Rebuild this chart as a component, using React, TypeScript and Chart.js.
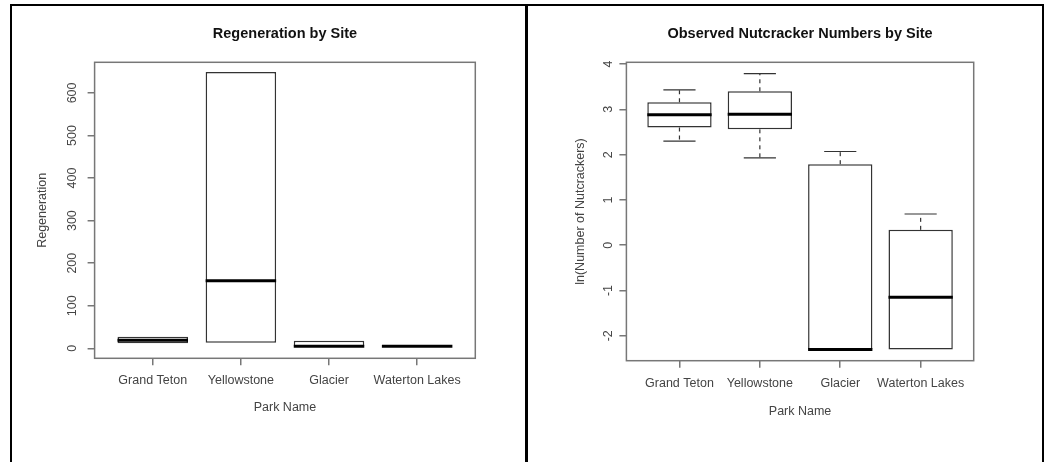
import React, { useEffect, useRef } from 'react';
import { Chart, registerables } from 'chart.js';

Chart.register(...registerables);

// ---------- data ----------
const parks = ['Grand Teton', 'Yellowstone', 'Glacier', 'Waterton Lakes'];
const parkPositions = [1, 2, 3, 4];

// Regeneration by Site (box plot statistics)
const regenLow = [12, 13, 4, 5];
const regenQ1 = [12, 13, 4, 5];
const regenMedian = [19, 159, 5, 5];
const regenQ3 = [27, 649, 18, 5];
const regenHigh = [27, 649, 18, 5];
const regenTicks = [0, 100, 200, 300, 400, 500, 600];

// Observed Nutcracker Numbers by Site, ln scale
const nutLow = [2.3, 1.93, -2.3, -2.3];
const nutQ1 = [2.6, 2.56, -2.3, -2.3];
const nutMedian = [2.88, 2.89, -2.3, -1.15];
const nutQ3 = [3.16, 3.4, 1.79, 0.34];
const nutHigh = [3.43, 3.79, 2.07, 0.69];
const nutTicks = [-2, -1, 0, 1, 2, 3, 4];

const FONT = "'Liberation Sans', Arial, Helvetica, sans-serif";

type Stats = { low: number[]; q1: number[]; median: number[]; q3: number[]; high: number[] };

function makeBoxPlugin(stats: Stats) {
  return {
    id: 'boxExtras',
    afterDatasetsDraw(chart: any) {
      const { ctx } = chart;
      const y = chart.scales.y;
      const meta = chart.getDatasetMeta(0);
      meta.data.forEach((bar: any, i: number) => {
        const x = bar.x;
        const half = bar.width / 2;
        const pq1 = y.getPixelForValue(stats.q1[i]);
        const pq3 = y.getPixelForValue(stats.q3[i]);
        const plo = y.getPixelForValue(stats.low[i]);
        const phi = y.getPixelForValue(stats.high[i]);
        const pm = y.getPixelForValue(stats.median[i]);
        ctx.save();
        ctx.strokeStyle = '#333';
        ctx.lineWidth = 1.2;
        ctx.lineCap = 'butt';
        if (stats.high[i] > stats.q3[i]) {
          ctx.setLineDash([4, 4]);
          ctx.beginPath();
          ctx.moveTo(x, pq3);
          ctx.lineTo(x, phi);
          ctx.stroke();
          ctx.setLineDash([]);
          ctx.beginPath();
          ctx.moveTo(x - half / 2, phi);
          ctx.lineTo(x + half / 2, phi);
          ctx.stroke();
        }
        if (stats.low[i] < stats.q1[i]) {
          ctx.setLineDash([4, 4]);
          ctx.beginPath();
          ctx.moveTo(x, pq1);
          ctx.lineTo(x, plo);
          ctx.stroke();
          ctx.setLineDash([]);
          ctx.beginPath();
          ctx.moveTo(x - half / 2, plo);
          ctx.lineTo(x + half / 2, plo);
          ctx.stroke();
        }
        ctx.strokeStyle = '#000';
        ctx.lineWidth = 3;
        ctx.beginPath();
        ctx.moveTo(x - half, pm);
        ctx.lineTo(x + half, pm);
        ctx.stroke();
        ctx.restore();
      });
    },
    afterDraw(chart: any) {
      const { ctx, chartArea: a } = chart;
      ctx.save();
      ctx.strokeStyle = '#777';
      ctx.lineWidth = 1.5;
      ctx.strokeRect(a.left, a.top, a.right - a.left, a.bottom - a.top);
      ctx.restore();
    },
  };
}

type PanelCfg = {
  title: string;
  yTitle: string;
  stats: Stats;
  yMin: number;
  yMax: number;
  yTicks: number[];
  width: number;
  padRight: number;
  yAxisWidth: number;
  yTitlePad: number;
  xAxisHeight: number;
  xTitlePad: number;
};

function buildConfig(p: PanelCfg): any {
  const axisFont = { family: FONT, size: 12.5 };
  return {
    type: 'bar',
    data: {
      datasets: [
        {
          data: parkPositions.map((x, i) => ({ x, y: [p.stats.q1[i], p.stats.q3[i]] })),
          backgroundColor: '#ffffff',
          borderColor: '#333',
          borderWidth: 1.5,
          borderSkipped: false,
          barPercentage: 0.8,
          categoryPercentage: 1,
        },
      ],
    },
    options: {
      animation: false,
      responsive: false,
      devicePixelRatio: 1,
      layout: { padding: { left: 0, right: p.padRight, top: 0, bottom: 0 } },
      plugins: {
        legend: { display: false },
        tooltip: { enabled: false },
        title: {
          display: true,
          text: p.title,
          fullSize: false,
          color: '#111',
          font: { family: FONT, size: 14.5, weight: 'bold' },
          padding: { top: 19.3, bottom: 19.6 },
        },
      },
      scales: {
        x: {
          type: 'linear',
          min: 0.34,
          max: 4.66,
          offset: false,
          afterBuildTicks: (s: any) => {
            s.ticks = parkPositions.map((v) => ({ value: v }));
          },
          afterFit: (s: any) => {
            s.height = p.xAxisHeight;
          },
          grid: {
            offset: false,
            drawOnChartArea: false,
            drawTicks: true,
            tickLength: 7,
            color: '#777',
            lineWidth: 1.5,
          },
          border: { display: false },
          ticks: {
            padding: 8.2,
            color: '#444',
            font: axisFont,
            minRotation: 0,
            maxRotation: 0,
            autoSkip: false,
            callback: (_v: any, i: number) => parks[i],
          },
          title: {
            display: true,
            text: 'Park Name',
            color: '#444',
            font: axisFont,
            padding: { top: 0, bottom: p.xTitlePad },
          },
        },
        y: {
          min: p.yMin,
          max: p.yMax,
          afterBuildTicks: (s: any) => {
            s.ticks = p.yTicks.map((v) => ({ value: v }));
          },
          afterFit: (s: any) => {
            s.width = p.yAxisWidth;
          },
          grid: {
            drawOnChartArea: false,
            drawTicks: true,
            tickLength: 7,
            color: '#777',
            lineWidth: 1.5,
          },
          border: { display: false },
          ticks: {
            padding: 5,
            crossAlign: 'center',
            minRotation: 90,
            maxRotation: 90,
            color: '#444',
            font: axisFont,
          },
          title: {
            display: true,
            text: p.yTitle,
            color: '#444',
            font: axisFont,
            padding: { top: p.yTitlePad, bottom: 0 },
          },
        },
      },
    },
    plugins: [makeBoxPlugin(p.stats)],
  };
}

function BoxChart({ cfg, left }: { cfg: PanelCfg; left: number }) {
  const ref = useRef<HTMLCanvasElement | null>(null);
  useEffect(() => {
    if (!ref.current) return;
    const chart = new Chart(ref.current, buildConfig(cfg));
    return () => chart.destroy();
  }, []);
  return (
    <canvas
      ref={ref}
      width={cfg.width}
      height={456}
      style={{ position: 'absolute', left, top: 6, width: cfg.width, height: 456 }}
    />
  );
}

const leftPanel: PanelCfg = {
  title: 'Regeneration by Site',
  yTitle: 'Regeneration',
  stats: { low: regenLow, q1: regenQ1, median: regenMedian, q3: regenQ3, high: regenHigh },
  yMin: -23.5,
  yMax: 672,
  yTicks: regenTicks,
  width: 513,
  padRight: 49.7,
  yAxisWidth: 82.6,
  yTitlePad: 22.7,
  xAxisHeight: 103.7,
  xTitlePad: 46.5,
};

const rightPanel: PanelCfg = {
  title: 'Observed Nutcracker Numbers by Site',
  yTitle: 'ln(Number of Nutcrackers)',
  stats: { low: nutLow, q1: nutQ1, median: nutMedian, q3: nutQ3, high: nutHigh },
  yMin: -2.55,
  yMax: 4.04,
  yTicks: nutTicks,
  width: 514,
  padRight: 68.3,
  yAxisWidth: 98.4,
  yTitlePad: 44.6,
  xAxisHeight: 101.3,
  xTitlePad: 42.8,
};

export default function App() {
  useEffect(() => {
    document.body.style.overflow = 'hidden';
  }, []);
  const line = (l: number, t: number, w: number, h: number) => (
    <div style={{ position: 'absolute', left: l, top: t, width: w, height: h, background: '#000' }} />
  );
  return (
    <div style={{ position: 'absolute', left: 0, top: 0, width: 1049, height: 462, background: '#fff', overflow: 'hidden' }}>
      <BoxChart cfg={leftPanel} left={12} />
      <BoxChart cfg={rightPanel} left={528} />
      {line(10, 4, 1034, 2)}
      {line(10, 4, 2, 458)}
      {line(525, 4, 3, 458)}
      {line(1042, 4, 2, 458)}
    </div>
  );
}
